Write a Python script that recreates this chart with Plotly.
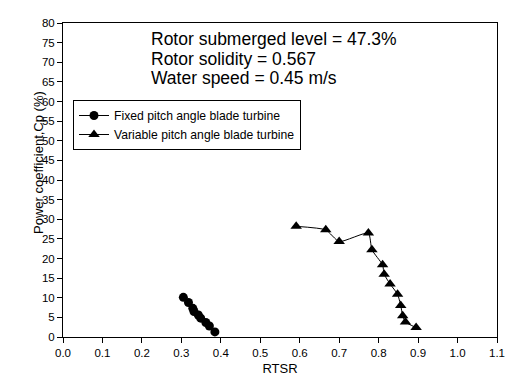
import plotly.graph_objects as go

# Fixed pitch angle blade turbine
fixed_rtsr = [0.305, 0.318, 0.329, 0.332, 0.343, 0.349, 0.362, 0.371, 0.385]
fixed_cp = [10.1, 8.8, 7.3, 6.5, 5.6, 4.8, 3.7, 2.8, 1.3]

# Variable pitch angle blade turbine
var_rtsr = [0.591, 0.666, 0.700, 0.774, 0.783, 0.810, 0.814, 0.829, 0.848, 0.856, 0.861, 0.868, 0.895]
var_cp = [28.2, 27.3, 24.3, 26.5, 22.2, 18.4, 16.0, 13.5, 10.9, 8.0, 5.4, 3.8, 2.4]

x_ticks = [round(0.1 * i, 1) for i in range(12)]
y_ticks = list(range(0, 81, 5))

info_lines = [
    "Rotor submerged level = 47.3%",
    "Rotor solidity = 0.567",
    "Water speed = 0.45 m/s",
]

FONT = "Liberation Sans, Arial, sans-serif"

fig = go.Figure()
fig.add_trace(go.Scatter(
    x=fixed_rtsr, y=fixed_cp, mode="lines+markers",
    name="Fixed pitch angle blade turbine",
    line=dict(color="black", width=1),
    marker=dict(symbol="circle", size=9, color="black"),
))
fig.add_trace(go.Scatter(
    x=var_rtsr, y=var_cp, mode="lines+markers",
    name="Variable pitch angle blade turbine",
    line=dict(color="black", width=1, shape="spline", smoothing=0.5),
    marker=dict(symbol="triangle-up", size=10, color="black"),
))

for i, t in enumerate(info_lines):
    fig.add_annotation(
        x=(149 - 63) / 434, y=(337 - 39 - i * 19.5) / 314,
        xref="paper", yref="paper", xanchor="left", yanchor="middle",
        text=t, showarrow=False,
        font=dict(family=FONT, size=17.5, color="black"),
    )

# y-axis title placed as rotated text
fig.add_annotation(
    x=-(63 - 38) / 434, y=(337 - 163) / 314,
    xref="paper", yref="paper", xanchor="center", yanchor="middle",
    text="Power coefficient,Cp (%)", textangle=-90, showarrow=False,
    font=dict(family=FONT, size=13, color="black"),
)

fig.update_layout(
    width=506, height=381,
    margin=dict(l=63, r=9, t=23, b=44),
    paper_bgcolor="white", plot_bgcolor="white",
    font=dict(family=FONT, color="black"),
    showlegend=True,
    legend=dict(
        x=(73 - 63) / 434, y=(337 - 100) / 314,
        xanchor="left", yanchor="top",
        bordercolor="black", borderwidth=1, bgcolor="white",
        font=dict(family=FONT, size=12.2, color="black"),
        tracegroupgap=0, itemwidth=30,
    ),
    xaxis=dict(
        range=[0, 1.1], tickvals=x_ticks, ticktext=[f"{v:.1f}" for v in x_ticks],
        showline=True, linecolor="black", linewidth=1, mirror=True,
        ticks="outside", ticklen=5, tickcolor="black",
        showgrid=False, zeroline=False, automargin=False,
        tickfont=dict(family=FONT, size=11.5, color="black"),
        title=dict(text="RTSR", font=dict(family=FONT, size=13, color="black"), standoff=6),
    ),
    yaxis=dict(
        range=[0, 80], tickvals=y_ticks,
        showline=True, linecolor="black", linewidth=1, mirror=True,
        ticks="outside", ticklen=5, tickcolor="black",
        showgrid=False, zeroline=False, automargin=False,
        tickfont=dict(family=FONT, size=11.5, color="black"),
    ),
)

fig.write_html("out.html")
